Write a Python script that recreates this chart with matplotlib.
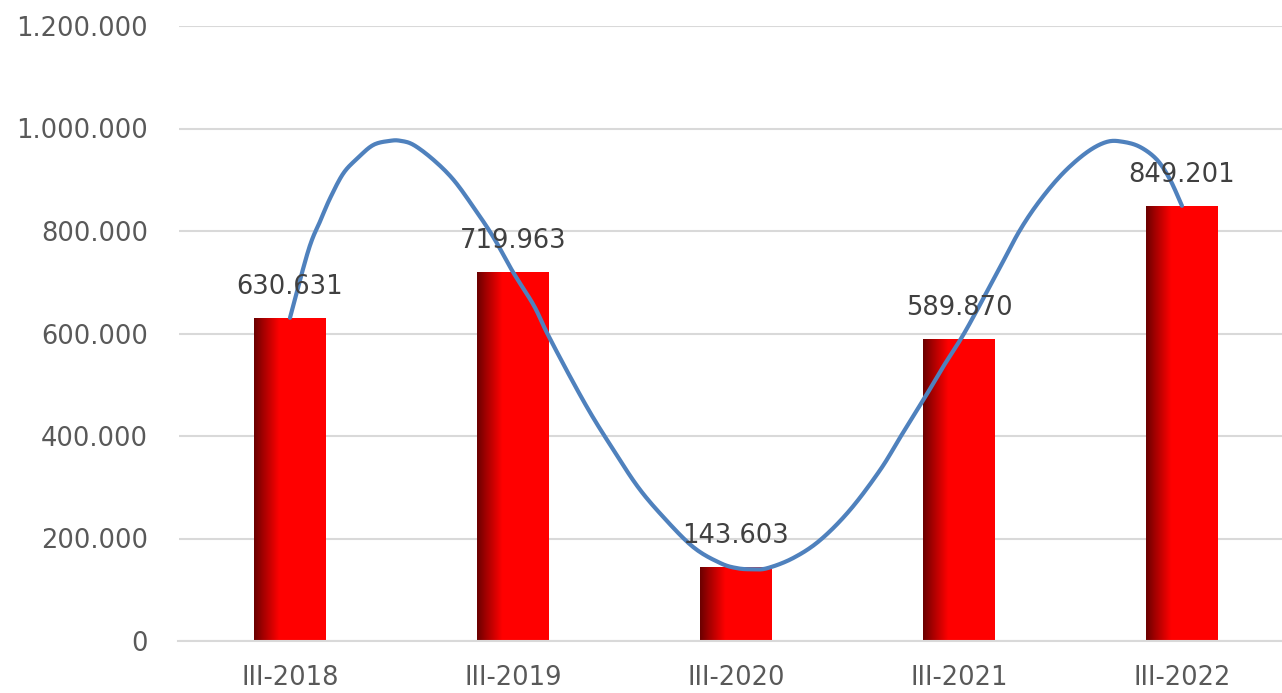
import numpy as np
import matplotlib.pyplot as plt
from matplotlib.ticker import FuncFormatter, MultipleLocator
from matplotlib.colors import LinearSegmentedColormap

# bar data
categories = ['III-2018', 'III-2019', 'III-2020', 'III-2021', 'III-2022']
values = [630631, 719963, 143603, 589870, 849201]
labels = ['630.631', '719.963', '143.603', '589.870', '849.201']

# freehand blue curve (category position, value)
curve_pos = [0.0, 0.083, 0.137, 0.182, 0.240, 0.303, 0.374, 0.450, 0.495, 0.554,
             0.643, 0.733, 0.822, 0.912, 1.0, 1.093, 1.154, 1.257, 1.347, 1.437,
             1.558, 1.674, 1.809, 1.930, 2.006, 2.073, 2.140, 2.257, 2.378, 2.512,
             2.647, 2.740, 2.840, 2.929, 3.005, 3.064, 3.185, 3.274, 3.364, 3.467,
             3.575, 3.664, 3.736, 3.812, 3.888, 3.947, 4.0]
curve_val = [630631, 763000, 821000, 866000, 913000, 942000, 968000, 976000, 976000, 968000,
             939000, 900000, 847000, 788000, 719963, 655000, 600000, 515000, 445000, 382000,
             302000, 242000, 183000, 152000, 142000, 140000, 142000, 162000, 197000, 256000,
             334000, 400000, 470000, 535000, 587000, 632000, 730000, 802000, 860000, 913000,
             954000, 974000, 974000, 964000, 939000, 900000, 849201]


def catmull_rom(px, py, n=12):
    # smooth path through the read points (uniform catmull-rom)
    px = np.asarray(px, float); py = np.asarray(py, float)
    P = np.column_stack([px, py])
    P = np.vstack([2*P[0] - P[1], P, 2*P[-1] - P[-2]])
    out = []
    t = np.linspace(0, 1, n, endpoint=False)[:, None]
    for i in range(1, len(P) - 2):
        p0, p1, p2, p3 = P[i-1], P[i], P[i+1], P[i+2]
        seg = 0.5*((2*p1) + (-p0 + p2)*t + (2*p0 - 5*p1 + 4*p2 - p3)*t**2
                   + (-p0 + 3*p1 - 3*p2 + p3)*t**3)
        out.append(seg)
    out.append(P[-2][None, :])
    out = np.vstack(out)
    return out[:, 0], out[:, 1]


plt.rcParams['font.family'] = ['DejaVu Sans']
fs = 18.5

fig = plt.figure(figsize=(12.82, 6.93), dpi=100)
ax = fig.add_axes([178.5/1282, 52/693, (1282-178.5)/1282, 615/693])

x = np.arange(len(categories))
bars = ax.bar(x, values, width=0.32, color='#ff0000', zorder=2)

# dark-to-red gradient on the left side of each bar
grad_cmap = LinearSegmentedColormap.from_list(
    'barshade', [(0.0, '#6a0000'), (0.12, '#a00000'), (0.35, '#ff0000'), (1.0, '#ff0000')])
grad = np.linspace(0, 1, 256).reshape(1, -1)
for b in bars:
    x0 = b.get_x()
    im = ax.imshow(grad, cmap=grad_cmap, aspect='auto', zorder=2.1,
                   extent=(x0, x0 + b.get_width(), 0, b.get_height()))
    im.set_clip_path(b)

cx, cy = catmull_rom(curve_pos, curve_val)
ax.plot(cx, cy, color='#4f81bd', lw=3, zorder=3,
        solid_capstyle='round', solid_joinstyle='round')

for xi, v, lab in zip(x, values, labels):
    ax.annotate(lab, (xi, v), xytext=(0, 13), textcoords='offset points',
                ha='center', va='bottom', fontsize=fs, color='#404040', zorder=4)

ax.set_xlim(-0.5, (1282 - 289.5) / 223.1)
ax.set_ylim(0, 1200000)
ax.yaxis.set_major_locator(MultipleLocator(200000))
ax.yaxis.set_major_formatter(FuncFormatter(lambda v, p: f'{int(v):,}'.replace(',', '.')))
ax.set_xticks(x)
ax.set_xticklabels(categories)

ax.grid(axis='y', color='#d9d9d9', lw=1.5, zorder=0)
ax.set_axisbelow(True)
for s in ['top', 'right', 'left']:
    ax.spines[s].set_visible(False)
ax.spines['bottom'].set_color('#d9d9d9')
ax.spines['bottom'].set_linewidth(1.5)
ax.tick_params(axis='both', length=0, labelsize=fs, labelcolor='#595959')
ax.tick_params(axis='y', pad=22)
ax.tick_params(axis='x', pad=17)

fig.savefig('out.png', dpi=100)
